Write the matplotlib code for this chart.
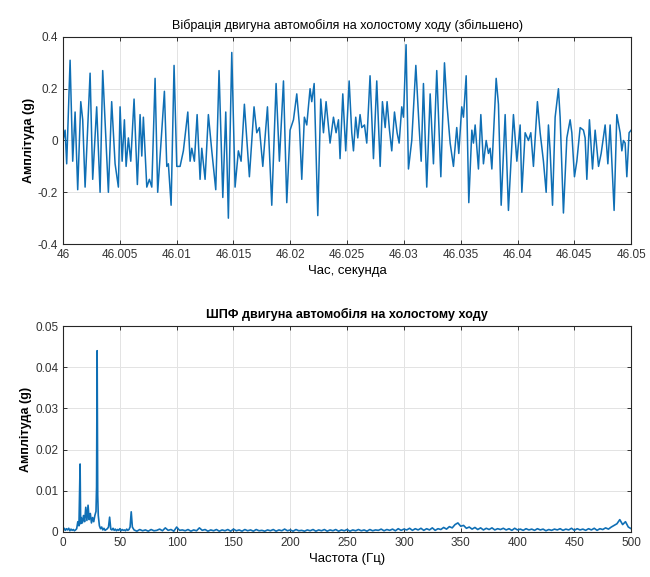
import matplotlib
matplotlib.use("Agg")
import matplotlib.pyplot as plt
import numpy as np
from matplotlib.ticker import FuncFormatter

plt.rcParams['font.family'] = ['Liberation Sans', 'DejaVu Sans']

# idle vibration, turning points: time after 46 s (ms) and amplitude (g)
t_ms = [0.0, 0.18, 0.32, 0.62, 0.85, 1.06, 1.29, 1.56, 1.73, 1.94, 2.38,
        2.61, 2.96, 3.26, 3.49, 3.99, 4.28, 4.58, 4.87, 5.02, 5.20, 5.40,
        5.55, 5.75, 5.96, 6.25, 6.54, 6.78, 6.93, 7.07, 7.37, 7.60, 7.81,
        8.10, 8.33, 8.92, 9.13, 9.27, 9.51, 9.77, 10.01, 10.30, 10.59,
        10.98, 11.18, 11.33, 11.56, 11.80, 12.06, 12.21, 12.50, 12.79,
        13.09, 13.44, 13.73, 14.06, 14.32, 14.55, 14.85, 15.14, 15.43,
        15.67, 15.96, 16.40, 16.81, 17.05, 17.28, 17.58, 17.99, 18.37,
        18.75, 19.04, 19.40, 19.69, 19.98, 20.28, 20.57, 20.80, 21.01,
        21.24, 21.45, 21.74, 21.89, 22.10, 22.42, 22.68, 22.92, 23.15,
        23.50, 23.80, 24.03, 24.24, 24.38, 24.62, 24.88, 25.18, 25.41,
        25.56, 25.76, 25.94, 26.14, 26.29, 26.53, 26.73, 27.02, 27.32,
        27.61, 27.91, 28.11, 28.35, 28.52, 28.73, 28.93, 29.17, 29.40,
        29.58, 29.81, 29.96, 30.19, 30.40, 30.69, 31.05, 31.34, 31.52,
        31.72, 32.01, 32.31, 32.60, 32.89, 33.25, 33.57, 33.77, 34.07,
        34.36, 34.65, 34.83, 35.09, 35.24, 35.48, 35.71, 35.98, 36.12,
        36.27, 36.56, 36.77, 37.00, 37.24, 37.44, 37.59, 37.74, 38.12,
        38.32, 38.56, 38.91, 39.20, 39.64, 39.94, 40.23, 40.38, 40.67,
        40.96, 41.17, 41.40, 41.75, 41.99, 42.28, 42.52, 42.72, 42.87,
        43.08, 43.31, 43.60, 43.75, 44.04, 44.34, 44.63, 44.78, 45.01,
        45.22, 45.51, 45.80, 45.95, 46.10, 46.33, 46.60, 46.83, 47.13,
        47.36, 47.71, 47.95, 48.15, 48.50, 48.74, 49.03, 49.18, 49.32,
        49.47, 49.62, 49.82, 50.0]
accel = [0.0, 0.04, -0.09, 0.31, -0.08, 0.11, -0.19, 0.15, 0.08, -0.18, 0.26,
         -0.15, 0.13, -0.20, 0.27, -0.20, 0.15, -0.09, -0.18, 0.13, -0.08, 0.08,
         -0.10, 0.01, -0.08, 0.16, -0.17, 0.10, -0.06, 0.09, -0.18, -0.15, -0.18,
         0.24, -0.20, 0.19, -0.10, -0.09, -0.25, 0.29, -0.10, -0.10, -0.04,
         0.11, -0.08, -0.03, -0.08, 0.10, -0.15, -0.03, -0.15, 0.10,
         -0.04, -0.19, 0.27, -0.22, 0.11, -0.30, 0.34, -0.18, -0.04,
         -0.08, 0.14, -0.14, 0.13, 0.03, 0.05, -0.10, 0.13, -0.25,
         0.22, -0.08, 0.23, -0.24, 0.04, 0.08, 0.18, 0.06, -0.15,
         0.09, 0.06, 0.20, 0.15, 0.22, -0.29, 0.16, 0.03, 0.15,
         -0.01, 0.09, 0.03, 0.08, -0.07, 0.18, -0.04, 0.23, 0.03,
         -0.04, 0.09, 0.01, 0.10, 0.05, 0.06, -0.01, 0.25, -0.07,
         0.23, -0.10, 0.15, 0.05, 0.15, 0.04, -0.04, 0.11, 0.03,
         -0.01, 0.13, 0.09, 0.37, -0.11, 0.00, 0.29, 0.05, -0.08,
         0.22, -0.18, 0.18, -0.09, 0.27, -0.14, 0.30, 0.15, -0.01,
         -0.10, 0.05, -0.05, 0.13, 0.09, 0.25, -0.24, 0.04, -0.01,
         0.06, -0.11, 0.10, -0.09, 0.00, -0.05, -0.03, -0.11, 0.24,
         0.14, -0.25, 0.10, -0.27, 0.10, -0.08, 0.06, -0.20, 0.03,
         0.00, 0.03, -0.10, 0.15, 0.03, -0.08, -0.20, 0.06, -0.04,
         -0.25, 0.09, 0.20, 0.09, -0.28, 0.01, 0.08, 0.03, -0.14,
         -0.08, 0.05, 0.04, 0.01, -0.15, 0.08, -0.11, 0.04, -0.10,
         -0.05, 0.06, -0.09, 0.06, -0.27, 0.10, 0.03, -0.04, 0.00,
         -0.01, -0.14, 0.03, 0.04]

# spectrum, low band read point by point (Hz, g)
low_freq = [0, 1, 2, 3, 4, 5, 6, 7, 8, 9, 10, 11, 12, 13, 14, 15, 15.5, 16,
            17, 18, 19, 20, 21, 22, 23, 24, 25, 26, 27, 28, 29, 29.5, 30,
            30.5, 31, 32, 33, 34, 35, 36, 37, 38, 39, 40, 41, 42, 43, 44,
            45, 46, 47, 48, 49, 50, 51, 52, 53, 54, 55, 56, 57, 58, 59, 60,
            61]
low_amp = [0.0003, 0.0009, 0.0004, 0.0008, 0.0005, 0.0009, 0.0003, 0.0007,
           0.0004, 0.0006, 0.0003, 0.0005, 0.0008, 0.0025, 0.0015, 0.0165,
           0.0020, 0.0035, 0.0022, 0.0040, 0.0025, 0.0060, 0.0028, 0.0065,
           0.0030, 0.0045, 0.0022, 0.0035, 0.0025, 0.0040, 0.0050, 0.0110,
           0.0440, 0.0090, 0.0040, 0.0015, 0.0008, 0.0012, 0.0005, 0.0009,
           0.0004, 0.0006, 0.0008, 0.0012, 0.0036, 0.0007, 0.0005, 0.0009,
           0.0004, 0.0007, 0.0003, 0.0006, 0.0004, 0.0008, 0.0003, 0.0006,
           0.0004, 0.0005, 0.0003, 0.0007, 0.0004, 0.0006, 0.0012, 0.0049,
           0.0012]

# rest of the spectrum, 62.5..500 Hz every 2.5 Hz, in 1e-4 g
high_amp_e4 = [5, 2, 6, 3, 5, 2, 6, 3, 4, 7,
               3, 10, 4, 6, 2, 12, 4, 5, 3, 6,
               2, 5, 3, 10, 4, 6, 2, 5, 3, 6,
               2, 5, 3, 6, 2, 7, 3, 5, 2, 6,
               3, 5, 2, 6, 3, 4, 2, 5, 3, 6,
               2, 5, 3, 7, 3, 5, 2, 6, 3, 4,
               2, 5, 3, 6, 2, 5, 3, 6, 2, 5,
               3, 6, 2, 5, 3, 6, 2, 5, 3, 6,
               3, 5, 2, 6, 3, 5, 4, 7, 3, 6,
               4, 7, 3, 8, 4, 7, 5, 9, 4, 8,
               5, 9, 4, 8, 5, 10, 4, 8, 6, 11,
               7, 13, 10, 18, 22, 14, 16, 9, 12, 7,
               11, 6, 10, 5, 9, 6, 10, 5, 8, 6,
               9, 5, 8, 4, 9, 5, 7, 4, 8, 5,
               7, 4, 8, 5, 7, 3, 6, 4, 7, 5,
               8, 4, 7, 5, 9, 4, 8, 5, 7, 4,
               8, 5, 9, 4, 8, 6, 10, 7, 12, 16,
               20, 30, 18, 25, 12, 8]

line_col = '#0f6fb5'

time = 46 + np.array(t_ms) / 1000.0
high_freq = 62.5 + 2.5 * np.arange(len(high_amp_e4))
freq = np.concatenate([low_freq, high_freq])
amp = np.concatenate([low_amp, np.array(high_amp_e4) * 1e-4])

fig = plt.figure(figsize=(6.5, 5.77), dpi=100)
ax1 = fig.add_axes([0.097, 0.577, 0.874, 0.359])
ax2 = fig.add_axes([0.097, 0.078, 0.874, 0.357])

def matlab_style(ax):
    ax.grid(True, color='#e3e3e3', linewidth=0.7)
    ax.set_axisbelow(True)
    ax.tick_params(direction='in', top=True, right=True, labelsize=8.5,
                   length=3, width=0.7, colors='#333333')
    for s in ax.spines.values():
        s.set_color('#262626')
        s.set_linewidth(0.8)

gfmt = FuncFormatter(lambda v, p: '%g' % round(v, 6))

ax1.plot(time, accel, color=line_col, linewidth=1.1)
ax1.set_xlim(46, 46.05)
ax1.set_ylim(-0.4, 0.4)
ax1.set_xticks(np.arange(46, 46.0501, 0.005))
ax1.set_yticks([-0.4, -0.2, 0, 0.2, 0.4])
ax1.xaxis.set_major_formatter(gfmt)
ax1.yaxis.set_major_formatter(gfmt)
matlab_style(ax1)
ax1.set_title('Вібрація двигуна автомобіля на холостому ходу (збільшено)',
              fontsize=9, pad=6)
ax1.set_xlabel('Час, секунда', fontsize=9.5, labelpad=3)
ax1.set_ylabel('Амплітуда (g)', fontsize=9, fontweight='bold', labelpad=2)

ax2.plot(freq, amp, color=line_col, linewidth=1.2)
ax2.set_xlim(0, 500)
ax2.set_ylim(0, 0.05)
ax2.set_xticks(np.arange(0, 501, 50))
ax2.set_yticks(np.arange(0, 0.0501, 0.01))
ax2.xaxis.set_major_formatter(gfmt)
ax2.yaxis.set_major_formatter(gfmt)
matlab_style(ax2)
ax2.set_title('ШПФ двигуна автомобіля на холостому ходу', fontsize=9,
              fontweight='bold', pad=6)
ax2.set_xlabel('Частота (Гц)', fontsize=9.5, labelpad=3)
ax2.set_ylabel('Амплітуда (g)', fontsize=9, fontweight='bold', labelpad=2)

fig.savefig('out.png', dpi=100)
